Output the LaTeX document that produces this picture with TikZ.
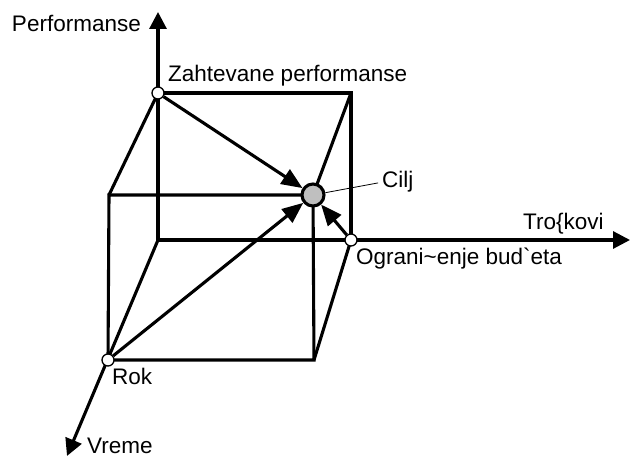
\documentclass[tikz,border=0pt]{standalone}
\usepackage{fontspec}
\setmainfont{Liberation Sans}
\usetikzlibrary{arrows.meta}

\begin{document}
\begin{tikzpicture}[x=1pt,y=1pt,font=\fontsize{22.5}{27}\selectfont,
  edge/.style={line width=3.1pt},
  axis/.style={edge,-{Triangle[length=17pt,width=17pt]}},
  goal/.style={edge,-{Triangle[length=21pt,width=17pt]}},
  corner/.style={circle,draw,fill=white,line width=1.3pt,inner sep=0pt,minimum size=12pt},
  lbl/.style={inner sep=0pt}]
  \useasboundingbox (0,0) rectangle (631,460);

  % Cube corners and axis ends
  \coordinate (o)    at (158,220);
  \coordinate (pz)   at (158,367);
  \coordinate (bk)   at (351,367);
  \coordinate (pb)   at (351,220);
  \coordinate (fl)   at (109,265);
  \coordinate (pc)   at (313,265);
  \coordinate (pr)   at (108,100);
  \coordinate (fr)   at (314,100);
  \coordinate (ptip) at (158,448);
  \coordinate (ttip) at (630,220);
  \coordinate (vtip) at (67,4);

  % Axes
  \draw[axis] (o) -- (ptip);
  \draw[axis] (o) -- (ttip);
  \draw[axis] (o) -- (vtip);

  % Cube
  \draw[edge] (pz) -- (bk) -- (pb);
  \draw[edge] (fl) -- (pc) -- (fr) -- (pr) -- cycle;
  \draw[edge] (pz) -- (fl);
  \draw[edge] (bk) -- (pc);
  \draw[edge] (pb) -- (fr);

  % Points
  \node[corner] (zah) at (pz) {};
  \node[corner] (ogr) at (pb) {};
  \node[corner] (rok) at (pr) {};
  \node[circle,draw,fill=gray!50,line width=3.1pt,inner sep=0pt,minimum size=22pt] (cilj) at (pc) {};

  % Arrows to the goal
  \draw[goal] (zah) -- (cilj);
  \draw[goal] (rok) -- (cilj);
  \draw[goal] (ogr) -- (cilj);

  % Labels
  \node[lbl,anchor=base east] (perf) at (141,428) {Performanse};
  \node[lbl,anchor=base west] (zahlbl) at (168,378) {Zahtevane performanse};
  \node[lbl,anchor=base west] (ciljlbl) at (382,272) {Cilj};
  \node[lbl,anchor=base west] (trok) at (523,230) {Tro\{kovi};
  \node[lbl,anchor=base west] (ogrlbl) at (356,195) {Ograni\textasciitilde enje bud\textasciigrave eta};
  \node[lbl,anchor=base west] (roklbl) at (112,75) {Rok};
  \node[lbl,anchor=base west] (vreme) at (87,7) {Vreme};
  \draw[line width=0.8pt,shorten >=4pt] (cilj) -- (ciljlbl.west);
\end{tikzpicture}
\end{document}
